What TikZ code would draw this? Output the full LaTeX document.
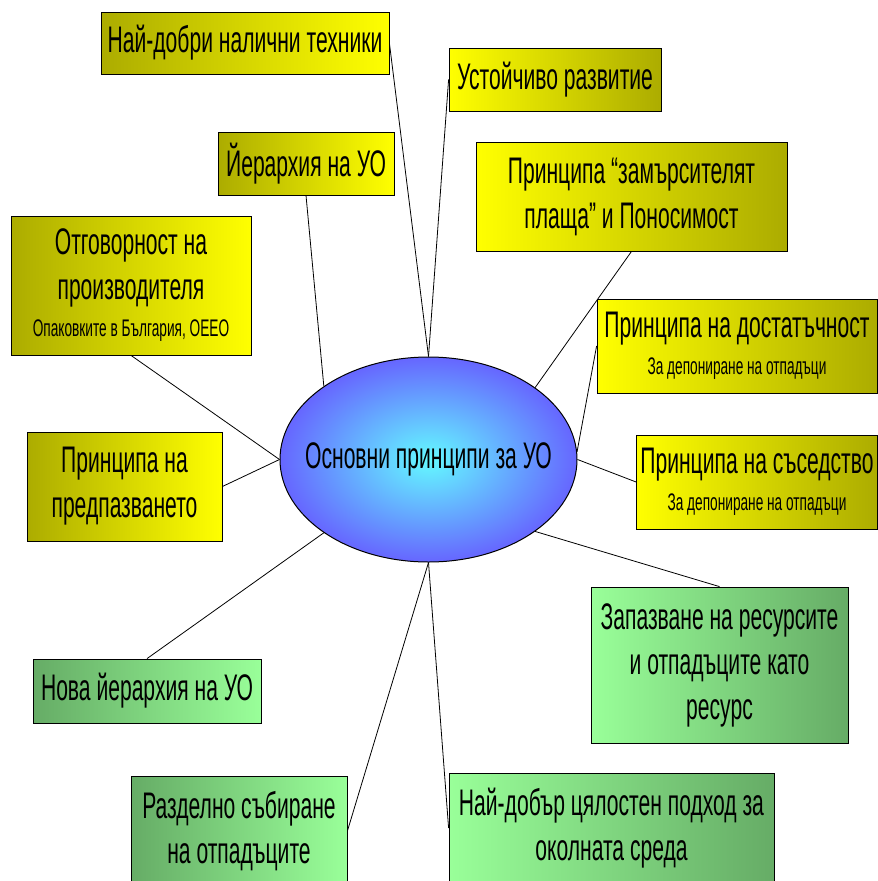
\documentclass[tikz,border=0pt]{standalone}
\usepackage{fontspec}
\setmainfont{Liberation Sans}[FakeStretch=0.57]
\usetikzlibrary{shapes.geometric,positioning}

\definecolor{yelLight}{RGB}{255,255,0}
\definecolor{yelDark}{RGB}{172,172,0}
\definecolor{grnLight}{RGB}{153,255,153}
\definecolor{grnDark}{RGB}{102,172,102}
\definecolor{coreIn}{RGB}{100,250,255}
\definecolor{coreOut}{RGB}{102,102,255}

\newcommand{\mainsize}{\fontsize{37}{45}\selectfont}
\newcommand{\notesize}{\fontsize{24}{28}\selectfont}

\tikzset{
    box/.style={rectangle, draw, line width=0.8pt, align=center, inner sep=0pt, font=\mainsize},
    yelin/.style={box, left color=yelDark, right color=yelLight},
    yelout/.style={box, left color=yelLight, right color=yelDark},
    grnin/.style={box, left color=grnDark, right color=grnLight},
    grnout/.style={box, left color=grnLight, right color=grnDark},
    link/.style={draw, line width=0.8pt}
}

\begin{document}
\begin{tikzpicture}[x=1pt, y=-1pt]
    \clip (0,0) rectangle (878,881);
    \fill[white] (0,0) rectangle (878,881);

    % Central ellipse
    \node[ellipse, draw, line width=1pt, inner sep=0pt, inner color=coreIn, outer color=coreOut, minimum width=297pt, minimum height=205pt, label={[font=\mainsize]center:Основни принципи за УО}] (core) at (428.5,459.5) {};

    % Upper principles
    \node[yelin, minimum width=288pt, minimum height=62pt] (tech) at (245,43) {Най-добри налични техники};
    \node[yelout, minimum width=212pt, minimum height=63pt] (sustain) at (555,79.5) {Устойчиво развитие};
    \node[yelin, minimum width=176pt, minimum height=63pt] (hier) at (306,163.5) {Йерархия на УО};
    \node[yelout, minimum width=311pt, minimum height=109pt] (polluter) at (631.5,196.5) {Принципа “замърсителят\\плаща” и Поносимост};
    \node[yelin, minimum width=240pt, minimum height=139pt] (producer) at (131,285.5) {Отговорност на\\производителя\\[-8pt]{\notesize Опаковките в България, ОЕЕО}};
    \node[yelout, minimum width=280pt, minimum height=94pt] (suffic) at (737,346) {Принципа на достатъчност\\[-8pt]{\notesize За депониране на отпадъци}};

    % Side principles
    \node[yelin, minimum width=195pt, minimum height=109pt] (prevent) at (124.5,486.5) {Принципа на\\предпазването};
    \node[yelout, minimum width=241pt, minimum height=94pt] (neigh) at (757,482) {Принципа на съседство\\[-8pt]{\notesize За депониране на отпадъци}};

    % Lower principles
    \node[grnout, minimum width=257pt, minimum height=156pt] (resource) at (719.5,665) {Запазване на ресурсите\\и отпадъците като\\ресурс};
    \node[grnin, minimum width=228pt, minimum height=64pt] (newhier) at (147,691) {Нова йерархия на УО};
    \node[grnin, minimum width=216pt, minimum height=110pt] (separate) at (239,831) {Разделно събиране\\на отпадъците};
    \node[grnout, minimum width=325pt, minimum height=110pt] (bestenv) at (611.5,828) {Най-добър цялостен подход за\\околната среда};

    % Connectors
    \draw[link] (tech.east) -- (core.north);
    \draw[link] (sustain.west) -- (core.north);
    \draw[link] (hier.south) -- (core.145);
    \draw[link] (polluter.south) -- (core.34);
    \draw[link] (producer.south) -- (core.west);
    \draw[link] (suffic.west) -- (core.3);
    \draw[link] (prevent.east) -- (core.west);
    \draw[link] (neigh.west) -- (core.east);
    \draw[link] (resource.north) -- (core.-34);
    \draw[link] (newhier.north) -- (core.215);
    \draw[link] (separate.east) -- (core.south);
    \draw[link] (bestenv.west) -- (core.south);
\end{tikzpicture}
\end{document}
